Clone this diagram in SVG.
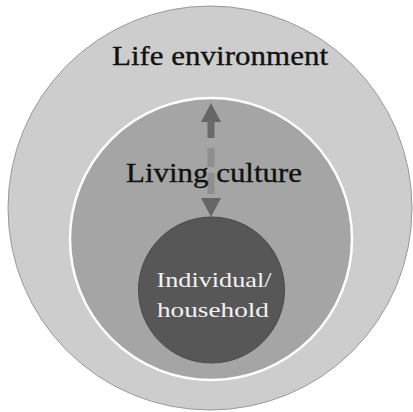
<svg xmlns="http://www.w3.org/2000/svg" width="413" height="412" viewBox="0 0 413 412">
<style>
.lbl{font-family:"Liberation Serif","DejaVu Serif",serif;font-size:28px;fill:#111;stroke:#111;stroke-width:0.35}
.inner{font-family:"Liberation Serif","DejaVu Serif",serif;font-size:22px;fill:#f2f2f2}
.head{fill:#666}
</style>
<rect width="413" height="412" fill="#ffffff"/>
<g id="life-environment">
<circle cx="210" cy="208" r="202" fill="#cdcdcd" stroke="#9a9a9a" stroke-width="1"/>
<text class="lbl" x="220" y="65" text-anchor="middle" textLength="216" lengthAdjust="spacingAndGlyphs">Life environment</text>
</g>
<g id="living-culture">
<circle cx="211" cy="239" r="141" fill="#a5a5a5" stroke="#ffffff" stroke-width="2.5"/>
</g>
<g id="individual-household">
<circle cx="211.5" cy="290" r="73" fill="#575757" stroke="#4a4a4a" stroke-width="1"/>
<text class="inner" x="214" y="287" text-anchor="middle" textLength="115" lengthAdjust="spacingAndGlyphs">Individual/</text>
<text class="inner" x="213" y="317" text-anchor="middle" textLength="112" lengthAdjust="spacingAndGlyphs">household</text>
</g>
<g id="connectors">
<polygon class="head" points="211,103 201,122 221,122"/>
<rect x="207.5" y="121" width="7" height="17" fill="#6a6a6a"/>
<rect x="207.5" y="148" width="7" height="19" fill="#8e8e8e"/>
<rect x="207.5" y="173" width="7" height="21" fill="#8e8e8e"/>
<polygon class="head" points="211,217 201,198 221,198"/>
</g>
<g id="living-culture-label">
<text class="lbl" x="214" y="182" text-anchor="middle" textLength="176" lengthAdjust="spacingAndGlyphs">Living culture</text>
</g>
</svg>
